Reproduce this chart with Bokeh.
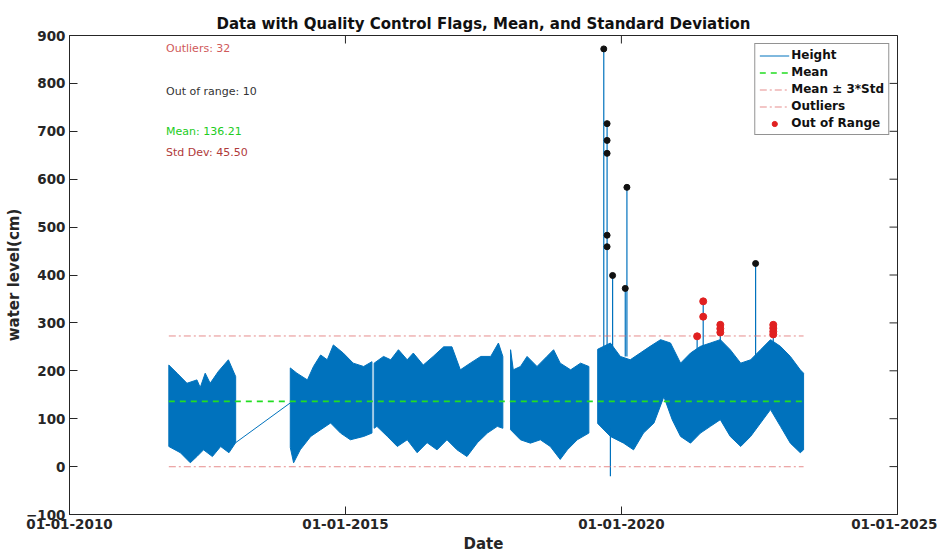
import math
import pandas as pd
from bokeh.plotting import figure
from bokeh.models import (FixedTicker, DatetimeTickFormatter, Range1d, Legend, LegendItem, Label)
from bokeh.embed import file_html
from bokeh.resources import INLINE

# ---------------- data (dates as decimal years) ----------------
# envelope of the dense "Height" record, per continuous stretch: upper and lower edges
seg1_up_t = [2011.80, 2011.95, 2012.13, 2012.31, 2012.37, 2012.46, 2012.55, 2012.70, 2012.88, 2013.01]
seg1_up_v = [212, 195, 174, 181, 165, 195, 174, 199, 223, 188]
seg1_lo_t = [2011.80, 2012.01, 2012.19, 2012.31, 2012.43, 2012.59, 2012.74, 2012.89, 2013.01]
seg1_lo_v = [42, 29, 8, 21, 35, 21, 42, 29, 50]

gap_t = [2013.01, 2014.00]
gap_v = [50, 133]

seg2a_up_t = [2014.00, 2014.12, 2014.31, 2014.42, 2014.55, 2014.67, 2014.78, 2014.96, 2015.14,
              2015.33, 2015.48]
seg2a_up_v = [206, 195, 181, 209, 233, 223, 254, 237, 216, 209, 219]
seg2a_lo_t = [2014.00, 2014.06, 2014.18, 2014.37, 2014.55, 2014.73, 2014.91, 2015.09, 2015.33, 2015.48]
seg2a_lo_v = [40, 8, 35, 63, 77, 91, 70, 56, 63, 70]

seg2b_up_t = [2015.52, 2015.69, 2015.82, 2015.96, 2016.12, 2016.23, 2016.41, 2016.59, 2016.78,
              2016.93, 2017.08, 2017.26, 2017.45, 2017.63, 2017.77, 2017.85]
seg2b_up_v = [216, 230, 223, 244, 223, 237, 212, 230, 250, 250, 202, 216, 230, 230, 258, 230]
seg2b_lo_t = [2015.52, 2015.57, 2015.76, 2015.94, 2016.12, 2016.30, 2016.48, 2016.66, 2016.84,
              2017.02, 2017.20, 2017.39, 2017.57, 2017.75, 2017.85]
seg2b_lo_v = [80, 84, 63, 42, 56, 29, 50, 35, 56, 35, 21, 50, 70, 84, 80]

seg3_up_t = [2017.99, 2018.04, 2018.17, 2018.29, 2018.47, 2018.65, 2018.77, 2018.89, 2019.08,
             2019.26, 2019.41]
seg3_up_v = [244, 202, 209, 230, 209, 230, 244, 216, 202, 216, 209]
seg3_lo_t = [2017.99, 2018.17, 2018.35, 2018.53, 2018.71, 2018.89, 2019.02, 2019.20, 2019.41]
seg3_lo_v = [77, 56, 49, 56, 42, 15, 35, 56, 70]

seg4_up_t = [2019.57, 2019.80, 2019.98, 2020.16, 2020.34, 2020.52, 2020.71, 2020.89, 2021.07,
             2021.25, 2021.43, 2021.61, 2021.79, 2021.97, 2022.16, 2022.34, 2022.52, 2022.70,
             2022.88, 2023.06, 2023.24, 2023.30]
seg4_up_v = [245, 258, 230, 223, 237, 251, 265, 258, 216, 237, 251, 258, 265, 244, 216, 223,
             244, 265, 251, 230, 202, 195]
seg4_lo_t = [2019.57, 2019.80, 2020.04, 2020.22, 2020.40, 2020.59, 2020.77, 2020.92, 2021.07,
             2021.25, 2021.43, 2021.61, 2021.79, 2021.97, 2022.16, 2022.34, 2022.52, 2022.70,
             2022.88, 2023.06, 2023.24, 2023.30]
seg4_lo_v = [90, 63, 49, 35, 70, 91, 146, 98, 63, 49, 70, 84, 98, 63, 42, 63, 91, 119, 84, 49,
             29, 35]

spike_t = [2019.68, 2019.74, 2019.80, 2019.84, 2020.07, 2020.10, 2021.37, 2021.48, 2021.79,
           2022.43, 2022.75]
spike_from = [240, 240, 80, 240, 230, 230, 240, 245, 250, 230, 250]
spike_to = [872, 716, -20, 399, 372, 583, 272, 345, 296, 424, 296]

outlier_t = [2019.68, 2019.74, 2019.74, 2019.74, 2019.74, 2019.74, 2019.84, 2020.10, 2020.07, 2022.43]
outlier_v = [872, 716, 681, 654, 483, 459, 399, 583, 372, 424]

oor_t = [2021.37, 2021.48, 2021.48, 2021.79, 2021.79, 2021.79, 2022.75, 2022.75, 2022.75, 2022.75]
oor_v = [272, 345, 313, 296, 288, 280, 296, 289, 282, 276]

mean_value = 136.21
std_value = 45.50
n_outliers = 32
n_out_of_range = 10
data_start = 2011.80
data_end = 2023.30
note_t = 2011.75

x_ticks = ["2010-01-01", "2015-01-01", "2020-01-01", "2025-01-01"]
y_ticks = [-100, 0, 100, 200, 300, 400, 500, 600, 700, 800, 900]

# ---------------- helpers ----------------
def ms(s):
    return pd.Timestamp(s).value / 1e6

def yr(f):
    y = int(f)
    return (pd.Timestamp(year=y, month=1, day=1) + pd.Timedelta(days=(f - y) * 365.25)).value / 1e6

def yrs(lst):
    return [yr(f) for f in lst]

FONT = "DejaVu Sans"
BLUE = "#0072BD"
AX = "#262626"

p = figure(width=937, height=555, output_backend="svg", toolbar_location=None,
           x_axis_type="datetime",
           x_range=Range1d(ms(x_ticks[0]), ms(x_ticks[-1])),
           y_range=Range1d(y_ticks[0], y_ticks[-1]),
           min_border_left=69, min_border_right=40, min_border_top=35, min_border_bottom=40)
p.title.text = "Data with Quality Control Flags, Mean, and Standard Deviation"
p.title.align = "center"
p.title.text_font = FONT
p.title.text_font_size = "15px"
p.title.text_font_style = "bold"
p.title.text_color = "#111111"
p.title.standoff = 6
p.xgrid.visible = False
p.ygrid.visible = False
p.outline_line_color = AX
p.outline_line_width = 1

for ut, uv, lt, lv in [(seg1_up_t, seg1_up_v, seg1_lo_t, seg1_lo_v),
                       (seg2a_up_t, seg2a_up_v, seg2a_lo_t, seg2a_lo_v),
                       (seg2b_up_t, seg2b_up_v, seg2b_lo_t, seg2b_lo_v),
                       (seg3_up_t, seg3_up_v, seg3_lo_t, seg3_lo_v),
                       (seg4_up_t, seg4_up_v, seg4_lo_t, seg4_lo_v)]:
    px = yrs(ut) + yrs(lt)[::-1]
    py = list(uv) + list(lv)[::-1]
    p.patch(px, py, fill_color=BLUE, line_color=BLUE, line_width=1)

height_r = p.line(yrs(gap_t), gap_v, line_color=BLUE, line_width=1)
p.segment(x0=yrs(spike_t), y0=spike_from, x1=yrs(spike_t), y1=spike_to,
          line_color=BLUE, line_width=1.2)

xs = [yr(data_start), yr(data_end)]
mean_r = p.line(xs, [mean_value] * 2, line_color="#22dd22", line_width=1.6, line_dash="6 5")
up_r = p.line(xs, [mean_value + 3 * std_value] * 2, line_color="#e07070", line_width=1,
              line_dash="7 3 2 3", line_alpha=0.8)
lo_r = p.line(xs, [mean_value - 3 * std_value] * 2, line_color="#e07070", line_width=1,
              line_dash="7 3 2 3", line_alpha=0.8)

p.scatter(yrs(outlier_t), outlier_v, size=6, fill_color="#111111", line_color="#111111")
oor_r = p.scatter(yrs(oor_t), oor_v, size=7, fill_color="#e02020", line_color="#e02020")

# inward tick marks on the top and right edges of the box (clipped to the frame)
p.scatter([ms(t) for t in x_ticks], [y_ticks[-1]] * len(x_ticks), marker="dash", size=16,
          angle=math.pi / 2, line_color=AX, line_width=1)
p.scatter([ms(x_ticks[-1])] * len(y_ticks), y_ticks, marker="dash", size=16,
          line_color=AX, line_width=1)

# ---------------- annotations ----------------
ann = [("Outliers: %d" % n_outliers, 873, "#d05a5a"),
       ("Out of range: %d" % n_out_of_range, 783, "#333333"),
       ("Mean: %.2f" % mean_value, 700, "#22cc22"),
       ("Std Dev: %.2f" % std_value, 656, "#b03a3a")]
for txt, yv, col in ann:
    p.add_layout(Label(x=yr(note_t), y=yv, text=txt, text_font=FONT,
                       text_font_size="11px", text_color=col, text_baseline="middle"))

# ---------------- axes ----------------
xt = FixedTicker(ticks=[ms(t) for t in x_ticks])
yt = FixedTicker(ticks=y_ticks)
fmt = DatetimeTickFormatter(days="%d-%m-%Y", months="%d-%m-%Y", years="%d-%m-%Y")

def style(ax):
    ax.axis_line_color = AX
    ax.major_tick_line_color = AX
    ax.major_tick_in = 8
    ax.major_tick_out = 0
    ax.minor_tick_line_color = None
    ax.major_label_text_font = FONT
    ax.major_label_text_font_style = "bold"
    ax.major_label_text_font_size = "13.5px"
    ax.major_label_text_color = AX
    ax.axis_label_text_font = FONT
    ax.axis_label_text_font_style = "bold"
    ax.axis_label_text_font_size = "15px"
    ax.axis_label_text_color = AX

xa = p.xaxis[0]
xa.ticker = xt
xa.formatter = fmt
xa.axis_label = "Date"
xa.major_label_standoff = 4
xa.axis_label_standoff = 3
style(xa)

ya = p.yaxis[0]
ya.ticker = yt
ya.axis_label = "water level(cm)"
ya.major_label_standoff = 4
ya.axis_label_standoff = 0
style(ya)

# ---------------- legend ----------------
legend = Legend(items=[LegendItem(label="Height", renderers=[height_r]),
                       LegendItem(label="Mean", renderers=[mean_r]),
                       LegendItem(label="Mean \u00b1 3*Std", renderers=[up_r]),
                       LegendItem(label="Outliers", renderers=[lo_r]),
                       LegendItem(label="Out of Range", renderers=[oor_r])],
                location="top_right")
legend.label_text_font = FONT
legend.label_text_font_style = "bold"
legend.label_text_font_size = "12px"
legend.label_text_color = "#111111"
legend.border_line_color = AX
legend.border_line_width = 1
legend.background_fill_alpha = 1
legend.glyph_width = 30
legend.glyph_height = 13
legend.label_height = 14
legend.label_standoff = 2
legend.spacing = 3
legend.padding = 4
legend.margin = 8
p.add_layout(legend)

open("out.html", "w").write(file_html(p, INLINE))
